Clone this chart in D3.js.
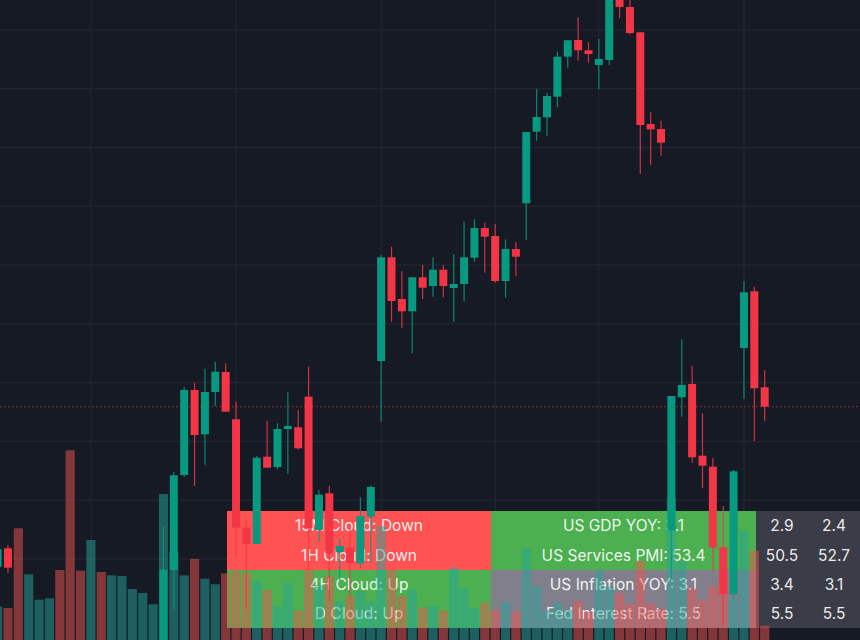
<!DOCTYPE html>
<html>
<head>
<meta charset="utf-8">
<script src="https://cdn.jsdelivr.net/npm/d3@7"></script>
<style>
  html, body { margin: 0; padding: 0; background: #161a25; overflow: hidden; }
  svg { display: block; }
</style>
</head>
<body>
<svg id="chart" width="860" height="640"></svg>
<script>
// index 2..15 sit below the visible price range, so they have no candle here
var open = [73, 91.7, null, null, null, null, null, null, null, null, null, null, null, null, null, null,
  -20, 70, 165, 250, 205.7, 248, 268, 220.7, 112.5, 96, 183.3, 173, 211, 212.7, 243.3, 110, 146.7, 87.7, 92.7, 76.7, 123.3,
  279, 382.7, 341, 328.7, 362.7, 354, 370.3, 352, 356, 382.3, 412, 404, 359, 391, 436.7, 508.3, 522.7, 543.3, 583.3, 600,
  589.7, 575, 580, 650, 633, 607.7, 516, 511, 109.3, 242.7, 256, 184.3, 173.3, 92.7, 45.7, 292, 348.7, 252.7]
var high = [92, 95, null, null, null, null, null, null, null, null, null, null, null, null, null, null,
  113.3, 168, 253, 257.3, 271.3, 278.3, 276.7, 238.3, 121, 184.3, 219.3, 216.7, 247.7, 230, 273.3, 150, 154.3, 101, 112, 142.7, 154.7,
  385, 393.3, 368.7, 363, 375, 382.7, 375, 385.7, 418.3, 420.7, 417.3, 416, 400.7, 398, 508, 551, 547.3, 588.3, 600, 622.7,
  598, 601, 660, 660, 645, 607.7, 527.7, 519.3, 244, 300.7, 274, 226.7, 182, 134, 170, 359, 353.3, 270]
var low = [67, 67, null, null, null, null, null, null, null, null, null, null, null, null, null, null,
  -30, 31, 163, 154, 175, 234, 228.3, 83.3, 31, 96, 172.3, 170.7, 166, 190.7, 70, 97.7, 39.3, 60, 41.7, 71.7, 77,
  218.3, 318.3, 311.7, 286.7, 341, 343.3, 342.7, 318.3, 338.3, 378.3, 367.3, 357.3, 342.3, 364, 400, 499.3, 504.3, 532.7, 572.3, 579.3,
  577.3, 550.7, 575, 622, 605.7, 466, 475, 484.3, 62, 223.3, 177.3, 151.7, 68.3, 15, 40.7, 241, 199, 219]
var close = [90.7, 72.3, null, null, null, null, null, null, null, null, null, null, null, null, null, null,
  70.3, 164.7, 250, 205, 248, 268.3, 228.3, 112.3, 96, 182.3, 172.3, 211, 214, 191.7, 112, 145.3, 86.7, 94, 77.3, 124, 153,
  382.7, 339, 328.7, 362.7, 352.3, 370.3, 354, 356, 382.7, 412, 403.3, 359, 391, 383.3, 508, 523, 544, 583.3, 599.7, 589.7,
  586, 581, 650, 633, 607, 515, 510.7, 497.3, 244, 255, 182.7, 174.3, 92.5, 45.7, 168.7, 347.7, 251.7, 233.3]

var volume = [33.3, 32, 111.7, 65.7, 40.3, 41.7, 70, 189.7, 69.3, 100, 68, 64.7, 64, 51, 47, 35.7,
  146, 88.3, 64.7, 81, 61.3, 55.7, 66.7, 69.3, 66.7, 58.3, 50, 33.3, 56.7, 29.3, 70, 55, 64, 38.3, 44, 48.3, 38.3,
  114, 70, 44, 50.7, 32.3, 34, 29.3, 72.7, 51.3, 31.7, 37.3, 30, 37.7, 28.3, 91.7, 54, 30, 37.3, 30, 39.3,
  28.3, 69.3, 53.3, 46.7, 36, 79.3, 36.7, 31, 142, 79.3, 51.7, 40, 54, 65, 42, 109.3, 89.3, 14.3]
// direction of the volume bars that have no visible candle, the rest follow their candle
var hiddenVolumeDir = ["r", "g", "g", "g", "r", "r", "r", "g", "r", "g", "g", "g", "g", "g"]

var gridPrices = [610, 551.3, 492.5, 433.7, 375, 316.2, 257.4, 198.6, 139.8, 81]
var gridIndexes = [9, 23, 37, 48, 58, 72]

var lastPrice = 233.3

var tableRows = [
  ["15M Cloud: Down", "US GDP YOY: 3.1", "2.9", "2.4"],
  ["1H Cloud: Down", "US Services PMI: 53.4", "50.5", "52.7"],
  ["4H Cloud: Up", "US Inflation YOY: 3.1", "3.4", "3.1"],
  ["D Cloud: Up", "Fed Interest Rate: 5.5", "5.5", "5.5"]
]
var tableFills = [
  ["#ff5252", "#4caf50", "#3a3d47", "#3a3d47"],
  ["#ff5252", "#4caf50", "#3a3d47", "#3a3d47"],
  ["#4caf50", "#807f8b", "#3a3d47", "#3a3d47"],
  ["#4caf50", "#807f8b", "#3a3d47", "#3a3d47"]
]
var columnEdges = [227, 491, 756, 808, 860]
var rowEdges = [511, 628]

var upColor = "#089981"
var downColor = "#f23645"
var volUpColor = "#26a69a"
var volDownColor = "#ef5350"

var width = 860
var height = 640

var x = d3.scaleLinear().domain([0, 74]).range([-2.4, 764.7])
var y = d3.scaleLinear().domain([0, 640]).range([640, 0])
var volY = d3.scaleLinear().domain([0, 640]).range([640, 0])
var rowY = d3.scaleBand().domain(d3.range(tableRows.length)).range(rowEdges)

var svg = d3.select("#chart")

var candles = open.map((o, i) => ({i: i, open: o, high: high[i], low: low[i], close: close[i], volume: volume[i]}))
var isUp = d => d.close >= d.open

var hiddenCount = 0
candles.forEach(d => {
  if(d.open === null) {
    d.dir = hiddenVolumeDir[hiddenCount]
    hiddenCount = hiddenCount + 1
  } else {
    d.dir = isUp(d) ? "g" : "r"
  }
})

// grid
svg.append("g").selectAll("line").data(gridPrices).join("line")
  .attr("x1", 0).attr("x2", width)
  .attr("y1", d => y(d)).attr("y2", d => y(d))
  .attr("stroke", "#252935").attr("stroke-width", 1)
svg.append("g").selectAll("line").data(gridIndexes).join("line")
  .attr("x1", d => x(d)).attr("x2", d => x(d))
  .attr("y1", 0).attr("y2", height)
  .attr("stroke", "#252935").attr("stroke-width", 1)

// last price line
svg.append("line")
  .attr("x1", 0).attr("x2", width)
  .attr("y1", y(lastPrice)).attr("y2", y(lastPrice))
  .attr("stroke", downColor).attr("stroke-opacity", 0.7)
  .attr("stroke-width", 1).attr("stroke-dasharray", "1.5 2.5")

// table goes under the volume bars and candles
var cells = []
tableRows.forEach((row, r) => row.forEach((label, c) => cells.push({r: r, c: c, label: label, fill: tableFills[r][c]})))

var table = svg.append("g")
table.selectAll("rect").data(cells).join("rect")
  .attr("x", d => columnEdges[d.c])
  .attr("y", d => rowY(d.r))
  .attr("width", d => columnEdges[d.c + 1] - columnEdges[d.c])
  .attr("height", rowY.bandwidth())
  .attr("fill", d => d.fill)
  .attr("shape-rendering", "crispEdges")
table.selectAll("text").data(cells).join("text")
  .attr("x", d => (columnEdges[d.c] + columnEdges[d.c + 1]) / 2)
  .attr("y", d => rowY(d.r) + rowY.bandwidth() / 2 + 1.5)
  .attr("text-anchor", "middle")
  .attr("dominant-baseline", "middle")
  .attr("fill", "#ffffff")
  .attr("fill-opacity", 0.92)
  .style("font-family", "Inter, Roboto, sans-serif")
  .style("font-size", "15.5px")
  .text(d => d.label)

// volume
svg.append("g").selectAll("rect").data(candles).join("rect")
  .attr("x", d => x(d.i) - 4.6)
  .attr("y", d => volY(d.volume))
  .attr("width", 9.2)
  .attr("height", d => height - volY(d.volume))
  .attr("fill", d => d.dir == "g" ? volUpColor : volDownColor)
  .attr("fill-opacity", 0.5)

// candles
var shown = candles.filter(d => d.open !== null)
var candle = svg.append("g").selectAll("g").data(shown).join("g")
  .attr("fill", d => isUp(d) ? upColor : downColor)
  .attr("stroke", d => isUp(d) ? upColor : downColor)
candle.append("line")
  .attr("x1", d => x(d.i)).attr("x2", d => x(d.i))
  .attr("y1", d => y(d.high)).attr("y2", d => y(d.low))
  .attr("stroke-width", 1.2)
  .attr("stroke-opacity", 0.85)
candle.append("rect")
  .attr("x", d => x(d.i) - 4)
  .attr("y", d => y(Math.max(d.open, d.close)))
  .attr("width", 8)
  .attr("height", d => Math.abs(y(d.open) - y(d.close)))
  .attr("stroke", "none")
</script>
</body>
</html>
